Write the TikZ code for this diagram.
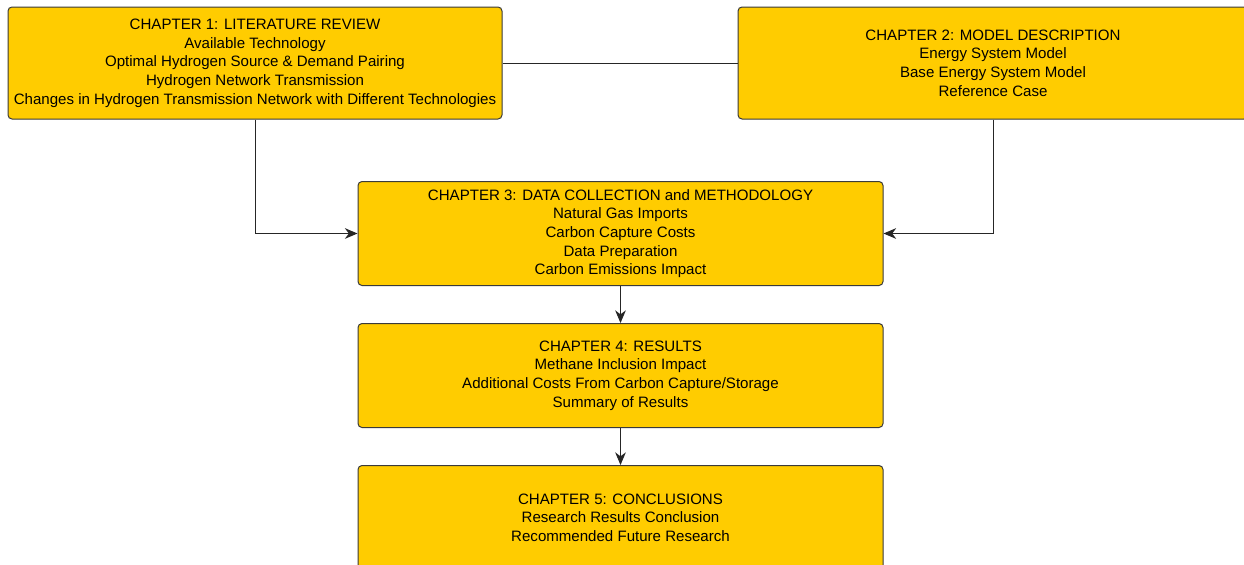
\documentclass[tikz,border=0pt]{standalone}
\usepackage{fontspec}
\setmainfont{Liberation Sans}
\usetikzlibrary{positioning}
\usetikzlibrary{arrows.meta}
\definecolor{chapfill}{HTML}{FFCC00}
\definecolor{chapline}{HTML}{3A3A3A}
\tikzset{chapter node/.style={rectangle,draw=chapline,fill=chapfill,line width=0.75pt,rounded corners=3pt,
    align=center,inner sep=0pt,text=black,font=\fontsize{11.3}{14}\selectfont},
  link/.style={line width=0.75pt,draw=black!85},
  arrow link/.style={link,-{Stealth[length=9.5pt,width=8pt,inset=3pt]}},}

\begin{document}
\begin{tikzpicture}[x=0.75pt,y=-0.75pt]
      \clip (0,0) rectangle (1244,564);
      \fill[white] (0,0) rectangle (1244,564);
      \node[chapter node,minimum width=370.5pt,minimum height=84pt] (ch1) at (255,63)
        {CHAPTER 1: LITERATURE REVIEW\\Available Technology\\Optimal Hydrogen Source \& Demand Pairing\\
         Hydrogen Network Transmission\\Changes in Hydrogen Transmission Network with Different Technologies};
      \node[chapter node,minimum width=382.5pt,minimum height=84pt] (ch2) at (993,63)
        {CHAPTER 2: MODEL DESCRIPTION\\Energy System Model\\Base Energy System Model\\Reference Case};
      \node[chapter node,minimum width=393.75pt,minimum height=78pt] (ch3) at (620.5,233.5)
        {CHAPTER 3: DATA COLLECTION and METHODOLOGY\\Natural Gas Imports\\Carbon Capture Costs\\
         Data Preparation\\Carbon Emissions Impact};
      \node[chapter node,minimum width=393.75pt,minimum height=78pt] (ch4) [below = 27.75pt of ch3]
        {CHAPTER 4: RESULTS\\Methane Inclusion Impact\\Additional Costs From Carbon Capture/Storage\\Summary of Results};
      \node[chapter node,minimum width=393.75pt,minimum height=78pt] (ch5) [below = 27.75pt of ch4]
        {CHAPTER 5: CONCLUSIONS\\Research Results Conclusion\\Recommended Future Research};

      \draw[link] (ch1) -- (ch2);
      \draw[arrow link] (ch1.south) |- (ch3.west);
      \draw[arrow link] (ch2.south) |- (ch3.east);
      \draw[arrow link] (ch3) -- (ch4);
      \draw[arrow link] (ch4) -- (ch5);
    \end{tikzpicture}
\end{document}
